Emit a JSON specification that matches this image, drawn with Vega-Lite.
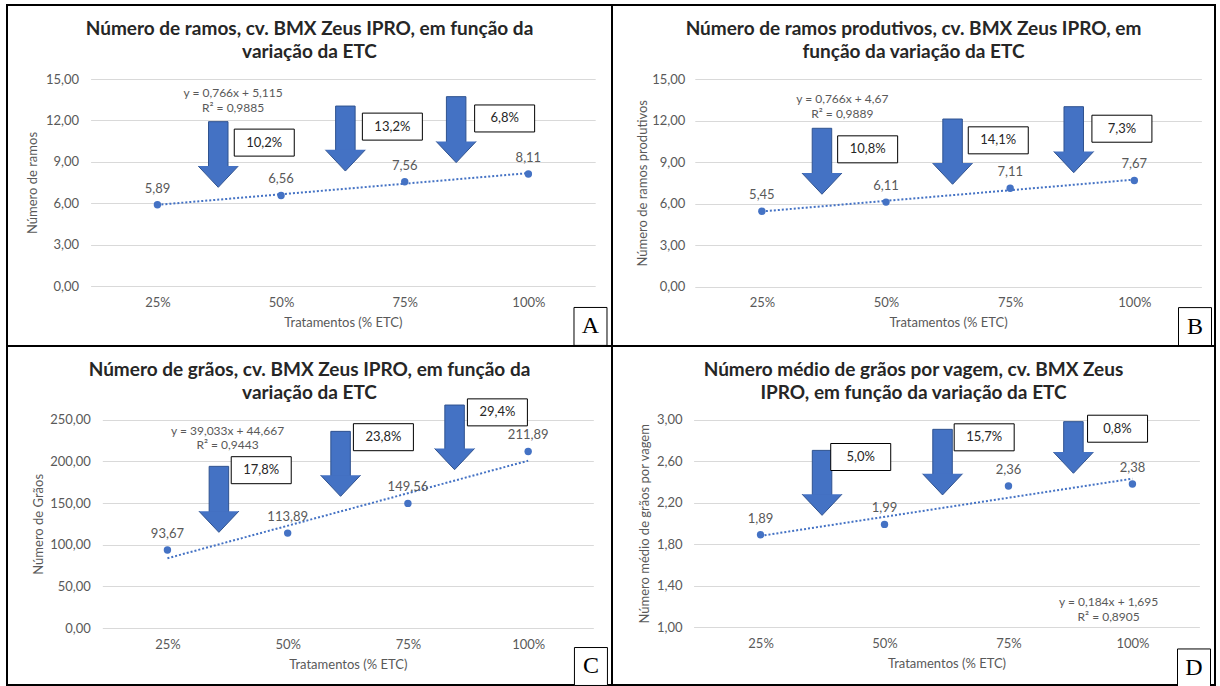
{
  "$schema": "https://vega.github.io/schema/vega-lite/v6.json",
  "background": "white",
  "padding": {"left": 6, "top": 4, "right": 0, "bottom": 0},
  "columns": 2,
  "spacing": 0,
  "bounds": "flush",
  "concat": [
    {
      "width": 605,
      "height": 341,
      "title": {"text": ["Número de ramos, cv. BMX Zeus IPRO, em função da", "variação da ETC"], "offset": -57},
      "layer": [
        {
          "data": {"values": [{"x": 25, "y": 5.881}, {"x": 100, "y": 8.179}]},
          "mark": {"type": "line", "color": "#4472C4", "strokeWidth": 2, "strokeDash": [2, 2]},
          "encoding": {
            "x": {"field": "x", "type": "quantitative", "scale": {"domain": [12.5, 112.5], "range": [83.6, 588.2], "nice": false, "zero": false}, "axis": {"values": [25, 50, 75, 100], "labelExpr": "datum.value + '%'", "title": "Tratamentos (% ETC)", "offset": -60}},
            "y": {"field": "y", "type": "quantitative", "scale": {"domain": [0, 15], "range": [281, 74], "nice": false, "zero": false}, "axis": {"values": [0, 3, 6, 9, 12, 15], "format": ".2f", "title": "Número de ramos", "offset": -83.6, "labelPadding": 12, "titlePadding": 6}}
          }
        },
        {
          "data": {"values": [{"x": 25, "y": 5.89}, {"x": 50, "y": 6.56}, {"x": 75, "y": 7.56}, {"x": 100, "y": 8.11}]},
          "layer": [
            {"mark": {"type": "circle", "size": 55, "color": "#4472C4", "opacity": 1}, "encoding": {"x": {"field": "x", "type": "quantitative"}, "y": {"field": "y", "type": "quantitative"}}},
            {"mark": {"type": "text", "font": "Lato", "fontSize": 13, "color": "#595959", "dy": -16, "baseline": "middle"}, "encoding": {"x": {"field": "x", "type": "quantitative"}, "y": {"field": "y", "type": "quantitative"}, "text": {"field": "y", "type": "quantitative", "format": ".2f"}}}
          ]
        },
        {
          "data": {"values": [{"x": 37.3, "topo": 11.91, "base": 8.6}, {"x": 63.0, "topo": 13.04, "base": 9.78}, {"x": 85.4, "topo": 13.72, "base": 10.39}]},
          "layer": [
            {"mark": {"type": "bar", "width": 19.5, "fill": "#4472C4", "stroke": "#2F528F", "strokeWidth": 1}, "encoding": {"x": {"field": "x", "type": "quantitative"}, "y": {"field": "topo", "type": "quantitative"}, "y2": {"field": "base"}}},
            {"mark": {"type": "point", "shape": "M-1,-0.06L0,1L1,-0.06", "size": 1600, "filled": true, "fill": "#4472C4", "stroke": "#2F528F", "strokeWidth": 1, "opacity": 1}, "encoding": {"x": {"field": "x", "type": "quantitative"}, "y": {"field": "base", "type": "quantitative"}}}
          ]
        },
        {
          "data": {"values": [{"x": 46.6, "y": 10.39, "t": "10,2%"}, {"x": 72.5, "y": 11.55, "t": "13,2%"}, {"x": 95.2, "y": 12.14, "t": "6,8%"}]},
          "layer": [
            {"mark": {"type": "point", "shape": "M-1,-0.45L1,-0.45L1,0.45L-1,0.45Z", "size": 3600, "filled": true, "fill": "white", "stroke": "#000000", "strokeWidth": 1, "opacity": 1}, "encoding": {"x": {"field": "x", "type": "quantitative"}, "y": {"field": "y", "type": "quantitative"}}},
            {"mark": {"type": "text", "font": "Lato", "fontSize": 13, "color": "#262626"}, "encoding": {"x": {"field": "x", "type": "quantitative"}, "y": {"field": "y", "type": "quantitative"}, "text": {"field": "t"}}}
          ]
        },
        {
          "data": {"values": [{"x": 40.3, "y": 13.96, "t": "y = 0,766x + 5,115"}, {"x": 40.3, "y": 12.87, "t": "R² = 0,9885"}]},
          "mark": {"type": "text", "font": "Lato", "fontSize": 12, "color": "#595959"},
          "encoding": {"x": {"field": "x", "type": "quantitative"}, "y": {"field": "y", "type": "quantitative"}, "text": {"field": "t"}}
        },
        {
          "data": {"values": [{"x": 112.56, "y": -2.93, "t": "A"}]},
          "layer": [
            {"mark": {"type": "point", "shape": "M-1,-1.15L1,-1.15L1,1.15L-1,1.15Z", "size": 1089, "filled": true, "fill": "white", "stroke": "#000000", "strokeWidth": 1, "opacity": 1}, "encoding": {"x": {"field": "x", "type": "quantitative"}, "y": {"field": "y", "type": "quantitative"}}},
            {"mark": {"type": "text", "font": "Liberation Serif", "fontSize": 24, "color": "#000000"}, "encoding": {"x": {"field": "x", "type": "quantitative"}, "y": {"field": "y", "type": "quantitative"}, "text": {"field": "t"}}}
          ]
        }
      ]
    },
    {
      "width": 603,
      "height": 341,
      "title": {"text": ["Número de ramos produtivos, cv. BMX Zeus IPRO, em", "função da variação da ETC"], "offset": -57},
      "layer": [
        {
          "data": {"values": [{"x": 25, "y": 5.436}, {"x": 100, "y": 7.734}]},
          "mark": {"type": "line", "color": "#4472C4", "strokeWidth": 2, "strokeDash": [2, 2]},
          "encoding": {
            "x": {"field": "x", "type": "quantitative", "scale": {"domain": [12.5, 112.5], "range": [82.8, 589.4], "nice": false, "zero": false}, "axis": {"values": [25, 50, 75, 100], "labelExpr": "datum.value + '%'", "title": "Tratamentos (% ETC)", "offset": -59.3}},
            "y": {"field": "y", "type": "quantitative", "scale": {"domain": [0, 15], "range": [281.7, 74], "nice": false, "zero": false}, "axis": {"values": [0, 3, 6, 9, 12, 15], "format": ".2f", "title": "Número de ramos produtivos", "offset": -82.8, "labelPadding": 10, "titlePadding": 2}}
          }
        },
        {
          "data": {"values": [{"x": 25, "y": 5.45}, {"x": 50, "y": 6.11}, {"x": 75, "y": 7.11}, {"x": 100, "y": 7.67}]},
          "layer": [
            {"mark": {"type": "circle", "size": 55, "color": "#4472C4", "opacity": 1}, "encoding": {"x": {"field": "x", "type": "quantitative"}, "y": {"field": "y", "type": "quantitative"}}},
            {"mark": {"type": "text", "font": "Lato", "fontSize": 13, "color": "#595959", "dy": -16, "baseline": "middle"}, "encoding": {"x": {"field": "x", "type": "quantitative"}, "y": {"field": "y", "type": "quantitative"}, "text": {"field": "y", "type": "quantitative", "format": ".2f"}}}
          ]
        },
        {
          "data": {"values": [{"x": 37.1, "topo": 11.44, "base": 8.12}, {"x": 63.4, "topo": 12.11, "base": 8.84}, {"x": 87.8, "topo": 13.0, "base": 9.68}]},
          "layer": [
            {"mark": {"type": "bar", "width": 19.5, "fill": "#4472C4", "stroke": "#2F528F", "strokeWidth": 1}, "encoding": {"x": {"field": "x", "type": "quantitative"}, "y": {"field": "topo", "type": "quantitative"}, "y2": {"field": "base"}}},
            {"mark": {"type": "point", "shape": "M-1,-0.06L0,1L1,-0.06", "size": 1600, "filled": true, "fill": "#4472C4", "stroke": "#2F528F", "strokeWidth": 1, "opacity": 1}, "encoding": {"x": {"field": "x", "type": "quantitative"}, "y": {"field": "base", "type": "quantitative"}}}
          ]
        },
        {
          "data": {"values": [{"x": 46.3, "y": 9.92, "t": "10,8%"}, {"x": 72.6, "y": 10.57, "t": "14,1%"}, {"x": 97.5, "y": 11.41, "t": "7,3%"}]},
          "layer": [
            {"mark": {"type": "point", "shape": "M-1,-0.45L1,-0.45L1,0.45L-1,0.45Z", "size": 3600, "filled": true, "fill": "white", "stroke": "#000000", "strokeWidth": 1, "opacity": 1}, "encoding": {"x": {"field": "x", "type": "quantitative"}, "y": {"field": "y", "type": "quantitative"}}},
            {"mark": {"type": "text", "font": "Lato", "fontSize": 13, "color": "#262626"}, "encoding": {"x": {"field": "x", "type": "quantitative"}, "y": {"field": "y", "type": "quantitative"}, "text": {"field": "t"}}}
          ]
        },
        {
          "data": {"values": [{"x": 41.2, "y": 13.53, "t": "y = 0,766x + 4,67"}, {"x": 41.2, "y": 12.5, "t": "R² = 0,9889"}]},
          "mark": {"type": "text", "font": "Lato", "fontSize": 12, "color": "#595959"},
          "encoding": {"x": {"field": "x", "type": "quantitative"}, "y": {"field": "y", "type": "quantitative"}, "text": {"field": "t"}}
        },
        {
          "data": {"values": [{"x": 112.22, "y": -2.88, "t": "B"}]},
          "layer": [
            {"mark": {"type": "point", "shape": "M-1,-1.15L1,-1.15L1,1.15L-1,1.15Z", "size": 1089, "filled": true, "fill": "white", "stroke": "#000000", "strokeWidth": 1, "opacity": 1}, "encoding": {"x": {"field": "x", "type": "quantitative"}, "y": {"field": "y", "type": "quantitative"}}},
            {"mark": {"type": "text", "font": "Liberation Serif", "fontSize": 24, "color": "#000000"}, "encoding": {"x": {"field": "x", "type": "quantitative"}, "y": {"field": "y", "type": "quantitative"}, "text": {"field": "t"}}}
          ]
        }
      ]
    },
    {
      "width": 605,
      "height": 339,
      "title": {"text": ["Número de grãos, cv. BMX Zeus IPRO, em função da", "variação da ETC"], "offset": -57},
      "layer": [
        {
          "data": {"values": [{"x": 25, "y": 83.7}, {"x": 100, "y": 200.8}]},
          "mark": {"type": "line", "color": "#4472C4", "strokeWidth": 2, "strokeDash": [2, 2]},
          "encoding": {
            "x": {"field": "x", "type": "quantitative", "scale": {"domain": [12.5, 112.5], "range": [95.3, 586.3], "nice": false, "zero": false}, "axis": {"values": [25, 50, 75, 100], "labelExpr": "datum.value + '%'", "title": "Tratamentos (% ETC)", "offset": -57}},
            "y": {"field": "y", "type": "quantitative", "scale": {"domain": [0, 250], "range": [282, 73.7], "nice": false, "zero": false}, "axis": {"values": [0, 50, 100, 150, 200, 250], "format": ".2f", "title": "Número de Grãos", "offset": -95.3, "labelPadding": 12, "titlePadding": 4}}
          }
        },
        {
          "data": {"values": [{"x": 25, "y": 93.67}, {"x": 50, "y": 113.89}, {"x": 75, "y": 149.56}, {"x": 100, "y": 211.89}]},
          "layer": [
            {"mark": {"type": "circle", "size": 55, "color": "#4472C4", "opacity": 1}, "encoding": {"x": {"field": "x", "type": "quantitative"}, "y": {"field": "y", "type": "quantitative"}}},
            {"mark": {"type": "text", "font": "Lato", "fontSize": 13, "color": "#595959", "dy": -16, "baseline": "middle"}, "encoding": {"x": {"field": "x", "type": "quantitative"}, "y": {"field": "y", "type": "quantitative"}, "text": {"field": "y", "type": "quantitative", "format": ".2f"}}}
          ]
        },
        {
          "data": {"values": [{"x": 35.7, "topo": 194, "base": 138.8}, {"x": 61.0, "topo": 236, "base": 182}, {"x": 84.7, "topo": 267.6, "base": 214}]},
          "layer": [
            {"mark": {"type": "bar", "width": 19.5, "fill": "#4472C4", "stroke": "#2F528F", "strokeWidth": 1}, "encoding": {"x": {"field": "x", "type": "quantitative"}, "y": {"field": "topo", "type": "quantitative"}, "y2": {"field": "base"}}},
            {"mark": {"type": "point", "shape": "M-1,-0.06L0,1L1,-0.06", "size": 1600, "filled": true, "fill": "#4472C4", "stroke": "#2F528F", "strokeWidth": 1, "opacity": 1}, "encoding": {"x": {"field": "x", "type": "quantitative"}, "y": {"field": "base", "type": "quantitative"}}}
          ]
        },
        {
          "data": {"values": [{"x": 44.5, "y": 189.4, "t": "17,8%"}, {"x": 69.9, "y": 229, "t": "23,8%"}, {"x": 93.6, "y": 258.8, "t": "29,4%"}]},
          "layer": [
            {"mark": {"type": "point", "shape": "M-1,-0.45L1,-0.45L1,0.45L-1,0.45Z", "size": 3600, "filled": true, "fill": "white", "stroke": "#000000", "strokeWidth": 1, "opacity": 1}, "encoding": {"x": {"field": "x", "type": "quantitative"}, "y": {"field": "y", "type": "quantitative"}}},
            {"mark": {"type": "text", "font": "Lato", "fontSize": 13, "color": "#262626"}, "encoding": {"x": {"field": "x", "type": "quantitative"}, "y": {"field": "y", "type": "quantitative"}, "text": {"field": "t"}}}
          ]
        },
        {
          "data": {"values": [{"x": 37.5, "y": 236, "t": "y = 39,033x + 44,667"}, {"x": 37.5, "y": 219.2, "t": "R² = 0,9443"}]},
          "mark": {"type": "text", "font": "Lato", "fontSize": 12, "color": "#595959"},
          "encoding": {"x": {"field": "x", "type": "quantitative"}, "y": {"field": "y", "type": "quantitative"}, "text": {"field": "t"}}
        },
        {
          "data": {"values": [{"x": 113.05, "y": -46.2, "t": "C"}]},
          "layer": [
            {"mark": {"type": "point", "shape": "M-1,-1.15L1,-1.15L1,1.15L-1,1.15Z", "size": 1089, "filled": true, "fill": "white", "stroke": "#000000", "strokeWidth": 1, "opacity": 1}, "encoding": {"x": {"field": "x", "type": "quantitative"}, "y": {"field": "y", "type": "quantitative"}}},
            {"mark": {"type": "text", "font": "Liberation Serif", "fontSize": 24, "color": "#000000"}, "encoding": {"x": {"field": "x", "type": "quantitative"}, "y": {"field": "y", "type": "quantitative"}, "text": {"field": "t"}}}
          ]
        }
      ]
    },
    {
      "width": 603,
      "height": 339,
      "title": {"text": ["Número médio de grãos por vagem, cv. BMX Zeus", "IPRO, em função da variação da ETC"], "offset": -57},
      "layer": [
        {
          "data": {"values": [{"x": 25, "y": 1.879}, {"x": 100, "y": 2.431}]},
          "mark": {"type": "line", "color": "#4472C4", "strokeWidth": 2, "strokeDash": [2, 2]},
          "encoding": {
            "x": {"field": "x", "type": "quantitative", "scale": {"domain": [12.5, 112.5], "range": [81.6, 587.4], "nice": false, "zero": false}, "axis": {"values": [25, 50, 75, 100], "labelExpr": "datum.value + '%'", "title": "Tratamentos (% ETC)", "offset": -58}},
            "y": {"field": "y", "type": "quantitative", "scale": {"domain": [1, 3], "range": [281, 73.7], "nice": false, "zero": false}, "axis": {"values": [1, 1.4, 1.8, 2.2, 2.6, 3], "format": ".2f", "title": "Número médio de grãos por vagem", "offset": -81.6, "labelPadding": 11.6, "titlePadding": 5}}
          }
        },
        {
          "data": {"values": [{"x": 25, "y": 1.89}, {"x": 50, "y": 1.99}, {"x": 75, "y": 2.36}, {"x": 100, "y": 2.38}]},
          "layer": [
            {"mark": {"type": "circle", "size": 55, "color": "#4472C4", "opacity": 1}, "encoding": {"x": {"field": "x", "type": "quantitative"}, "y": {"field": "y", "type": "quantitative"}}},
            {"mark": {"type": "text", "font": "Lato", "fontSize": 13, "color": "#595959", "dy": -16, "baseline": "middle"}, "encoding": {"x": {"field": "x", "type": "quantitative"}, "y": {"field": "y", "type": "quantitative"}, "text": {"field": "y", "type": "quantitative", "format": ".2f"}}}
          ]
        },
        {
          "data": {"values": [{"x": 37.4, "topo": 2.704, "base": 2.27}, {"x": 61.7, "topo": 2.907, "base": 2.467}, {"x": 88.1, "topo": 2.981, "base": 2.676}]},
          "layer": [
            {"mark": {"type": "bar", "width": 19.5, "fill": "#4472C4", "stroke": "#2F528F", "strokeWidth": 1}, "encoding": {"x": {"field": "x", "type": "quantitative"}, "y": {"field": "topo", "type": "quantitative"}, "y2": {"field": "base"}}},
            {"mark": {"type": "point", "shape": "M-1,-0.06L0,1L1,-0.06", "size": 1600, "filled": true, "fill": "#4472C4", "stroke": "#2F528F", "strokeWidth": 1, "opacity": 1}, "encoding": {"x": {"field": "x", "type": "quantitative"}, "y": {"field": "base", "type": "quantitative"}}}
          ]
        },
        {
          "data": {"values": [{"x": 45.2, "y": 2.64, "t": "5,0%"}, {"x": 70.1, "y": 2.83, "t": "15,7%"}, {"x": 97.0, "y": 2.913, "t": "0,8%"}]},
          "layer": [
            {"mark": {"type": "point", "shape": "M-1,-0.45L1,-0.45L1,0.45L-1,0.45Z", "size": 3600, "filled": true, "fill": "white", "stroke": "#000000", "strokeWidth": 1, "opacity": 1}, "encoding": {"x": {"field": "x", "type": "quantitative"}, "y": {"field": "y", "type": "quantitative"}}},
            {"mark": {"type": "text", "font": "Lato", "fontSize": 13, "color": "#262626"}, "encoding": {"x": {"field": "x", "type": "quantitative"}, "y": {"field": "y", "type": "quantitative"}, "text": {"field": "t"}}}
          ]
        },
        {
          "data": {"values": [{"x": 95.2, "y": 1.238, "t": "y = 0,184x + 1,695"}, {"x": 95.2, "y": 1.096, "t": "R² = 0,8905"}]},
          "mark": {"type": "text", "font": "Lato", "fontSize": 12, "color": "#595959"},
          "encoding": {"x": {"field": "x", "type": "quantitative"}, "y": {"field": "y", "type": "quantitative"}, "text": {"field": "t"}}
        },
        {
          "data": {"values": [{"x": 112.42, "y": 0.605, "t": "D"}]},
          "layer": [
            {"mark": {"type": "point", "shape": "M-1,-1.15L1,-1.15L1,1.15L-1,1.15Z", "size": 1089, "filled": true, "fill": "white", "stroke": "#000000", "strokeWidth": 1, "opacity": 1}, "encoding": {"x": {"field": "x", "type": "quantitative"}, "y": {"field": "y", "type": "quantitative"}}},
            {"mark": {"type": "text", "font": "Liberation Serif", "fontSize": 24, "color": "#000000"}, "encoding": {"x": {"field": "x", "type": "quantitative"}, "y": {"field": "y", "type": "quantitative"}, "text": {"field": "t"}}}
          ]
        }
      ]
    }
  ],
  "config": {
    "locale": {"number": {"decimal": ",", "thousands": ".", "grouping": [3], "currency": ["R$", ""]}},
    "view": {"stroke": "#000000", "strokeWidth": 2, "fill": "white"},
    "axis": {"labelFont": "Lato", "labelFontSize": 13, "labelColor": "#595959", "titleFont": "Lato", "titleFontSize": 13, "titleColor": "#595959", "titleFontWeight": "normal", "ticks": false, "domain": false, "gridColor": "#D9D9D9", "gridWidth": 1},
    "axisX": {"grid": false, "labelBaseline": "middle", "labelPadding": 16, "titlePadding": 7, "labelFlush": false},
    "axisY": {"grid": true},
    "title": {"font": "Lato", "fontSize": 19, "fontWeight": "bold", "color": "#262626", "anchor": "middle", "frame": "group", "lineHeight": 23, "baseline": "top"}
  }
}
